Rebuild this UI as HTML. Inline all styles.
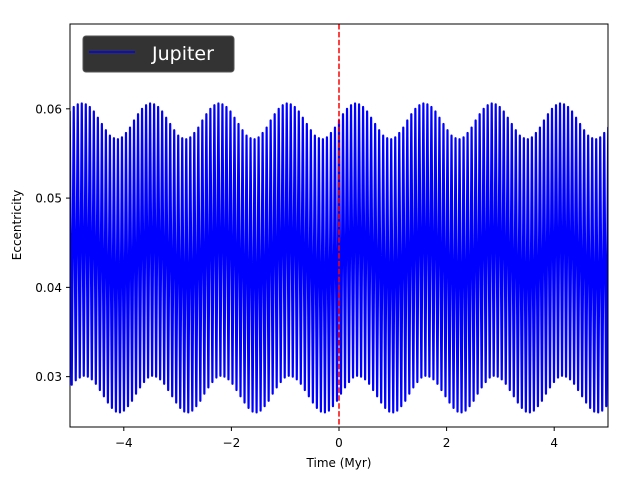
<!DOCTYPE html>
<html><head><meta charset="utf-8"><style>
body{margin:0;background:#fff;}
svg{display:block;font-family:"DejaVu Sans","Liberation Sans",sans-serif;}
</style></head><body>
<svg id="chart" width="640" height="480" xmlns="http://www.w3.org/2000/svg">
<defs><clipPath id="clip"><rect x="70" y="24" width="538" height="403"/></clipPath></defs>
<rect x="0" y="0" width="640" height="480" fill="#fff"/>
<g id="series" clip-path="url(#clip)"></g>
<g id="axes"></g>
</svg>
<script>
const xTicks = [-4, -2, 0, 2, 4];
const xTickLabels = ["\u22124", "\u22122", "0", "2", "4"];
const yTicks = [0.03, 0.04, 0.05, 0.06];
const yTickLabels = ["0.03", "0.04", "0.05", "0.06"];
const startTime = [-5.08];
const cyclePeriod = [0.0747];
const upperEnv = [
0.0590,0.0597,0.0602,0.0605,
0.0606,0.0605,0.0602,0.0597,0.0590,0.0583,0.0576,0.0570,0.0567,0.0566,0.0568,0.0573,0.0579,0.0587,0.0594,0.0600,0.0604,
0.0606,0.0605,0.0602,0.0597,0.0590,0.0583,0.0576,0.0570,0.0567,0.0566,0.0568,0.0573,0.0579,0.0587,0.0594,0.0600,0.0604,
0.0606,0.0605,0.0602,0.0597,0.0590,0.0583,0.0576,0.0570,0.0567,0.0566,0.0568,0.0573,0.0579,0.0587,0.0594,0.0600,0.0604,
0.0606,0.0605,0.0602,0.0597,0.0590,0.0583,0.0576,0.0570,0.0567,0.0566,0.0568,0.0573,0.0579,0.0587,0.0594,0.0600,0.0604,
0.0606,0.0605,0.0602,0.0597,0.0590,0.0583,0.0576,0.0570,0.0567,0.0566,0.0568,0.0573,0.0579,0.0587,0.0594,0.0600,0.0604,
0.0606,0.0605,0.0602,0.0597,0.0590,0.0583,0.0576,0.0570,0.0567,0.0566,0.0568,0.0573,0.0579,0.0587,0.0594,0.0600,0.0604,
0.0606,0.0605,0.0602,0.0597,0.0590,0.0583,0.0576,0.0570,0.0567,0.0566,0.0568,0.0573,0.0579,0.0587,0.0594,0.0600,0.0604,
0.0606,0.0605,0.0602,0.0597,0.0590,0.0583,0.0576,0.0570,0.0567,0.0566,0.0568,0.0573,0.0579,0.0587,0.0594,0.0600,0.0604,
0.0606,0.0605,0.0602,0.0597,0.0590
];
const lowerEnv = [
0.0284,0.0291,0.0296,0.0299,
0.0301,0.0300,0.0297,0.0292,0.0285,0.0278,0.0271,0.0265,0.0261,0.0260,0.0262,0.0267,0.0273,0.0281,0.0288,0.0294,0.0299,
0.0301,0.0300,0.0297,0.0292,0.0285,0.0278,0.0271,0.0265,0.0261,0.0260,0.0262,0.0267,0.0273,0.0281,0.0288,0.0294,0.0299,
0.0301,0.0300,0.0297,0.0292,0.0285,0.0278,0.0271,0.0265,0.0261,0.0260,0.0262,0.0267,0.0273,0.0281,0.0288,0.0294,0.0299,
0.0301,0.0300,0.0297,0.0292,0.0285,0.0278,0.0271,0.0265,0.0261,0.0260,0.0262,0.0267,0.0273,0.0281,0.0288,0.0294,0.0299,
0.0301,0.0300,0.0297,0.0292,0.0285,0.0278,0.0271,0.0265,0.0261,0.0260,0.0262,0.0267,0.0273,0.0281,0.0288,0.0294,0.0299,
0.0301,0.0300,0.0297,0.0292,0.0285,0.0278,0.0271,0.0265,0.0261,0.0260,0.0262,0.0267,0.0273,0.0281,0.0288,0.0294,0.0299,
0.0301,0.0300,0.0297,0.0292,0.0285,0.0278,0.0271,0.0265,0.0261,0.0260,0.0262,0.0267,0.0273,0.0281,0.0288,0.0294,0.0299,
0.0301,0.0300,0.0297,0.0292,0.0285,0.0278,0.0271,0.0265,0.0261,0.0260,0.0262,0.0267,0.0273,0.0281,0.0288,0.0294,0.0299,
0.0301,0.0300,0.0297,0.0292,0.0285
];
const NS = "http://www.w3.org/2000/svg";
const X0 = 70, X1 = 608, Y0 = 24, Y1 = 427;
const xMin = -5, xMax = 5, yMin = 0.02436, yMax = 0.0695;
function xs(t){ return X0 + (t - xMin) / (xMax - xMin) * (X1 - X0); }
function ys(v){ return Y1 - (v - yMin) / (yMax - yMin) * (Y1 - Y0); }
function mk(tag, attrs, parent){ const e = document.createElementNS(NS, tag); for (const k in attrs) e.setAttribute(k, attrs[k]); parent.appendChild(e); return e; }
const series = document.getElementById('series');
const axes = document.getElementById('axes');
let pts = [];
for (let i = 0; i < upperEnv.length; i++) {
  const t = startTime[0] + i * cyclePeriod[0];
  pts.push(xs(t).toFixed(2) + ',' + ys(upperEnv[i]).toFixed(2));
  if (i < lowerEnv.length) pts.push(xs(t + cyclePeriod[0] / 2).toFixed(2) + ',' + ys(lowerEnv[i]).toFixed(2));
}
const line = mk('polyline', {points: pts.join(' '), fill: 'none', stroke: '#0000ff', 'stroke-width': 2.2, 'stroke-linejoin': 'round'}, series);


const vl = mk('line', {x1: xs(0), x2: xs(0), y1: Y0, y2: Y1, stroke: '#ff0000', 'stroke-width': 1.5, 'stroke-dasharray': '5.5,2.4'}, axes);


const frame = mk('rect', {x: X0, y: Y0, width: X1 - X0, height: Y1 - Y0, fill: 'none', stroke: '#000', 'stroke-width': 1}, axes);


xTicks.forEach((t, i) => {
  const tk = mk('line', {x1: xs(t), x2: xs(t), y1: Y1, y2: Y1 + 4, stroke: '#000', 'stroke-width': 1}, axes);
  
  
  const tx = mk('text', {x: xs(t), y: Y1 + 20, 'font-size': 12, 'text-anchor': 'middle', fill: '#000'}, axes);
  tx.textContent = xTickLabels[i];
  
  
});
yTicks.forEach((v, i) => {
  const tk = mk('line', {x1: X0 - 4, x2: X0, y1: ys(v), y2: ys(v), stroke: '#000', 'stroke-width': 1}, axes);
  
  
  const tx = mk('text', {x: X0 - 8, y: ys(v) + 4.5, 'font-size': 12, 'text-anchor': 'end', fill: '#000'}, axes);
  tx.textContent = yTickLabels[i];
  
  
});
</script>
<svg style="position:absolute;left:0;top:0" width="640" height="480" xmlns="http://www.w3.org/2000/svg">
<text x="339" y="467" font-size="12" text-anchor="middle" font-family="DejaVu Sans, Liberation Sans, sans-serif">Time (Myr)</text>
<text x="0" y="0" font-size="12" text-anchor="middle" transform="translate(21,225) rotate(-90)" font-family="DejaVu Sans, Liberation Sans, sans-serif">Eccentricity</text>
<g>
<rect x="83" y="36" width="151" height="36" rx="3" fill="#333" stroke="#555" stroke-width="1"/>
<line x1="89" y1="52" x2="135" y2="52" stroke="#0000ff" stroke-width="1.5"/>
<text x="152" y="60" font-size="19" fill="#fff" font-family="DejaVu Sans, Liberation Sans, sans-serif">Jupiter</text>
</g>
</svg>
</body></html>
